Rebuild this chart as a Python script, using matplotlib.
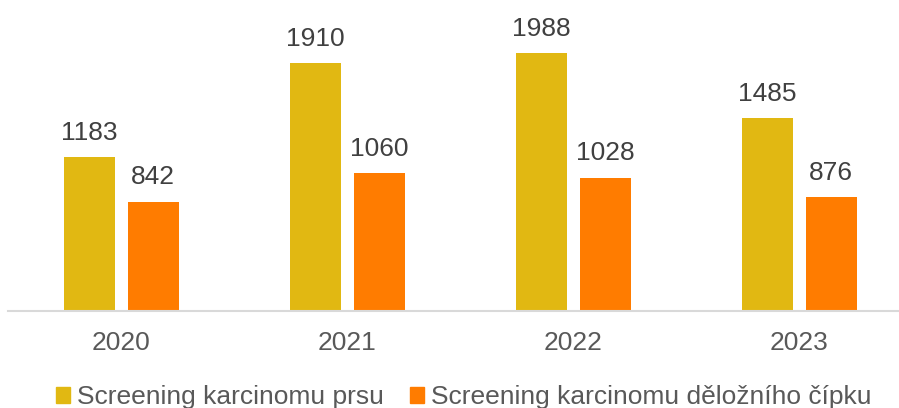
import matplotlib.pyplot as plt
import numpy as np
from matplotlib.patches import Patch

years = ["2020", "2021", "2022", "2023"]
prsu = [1183, 1910, 1988, 1485]
cipku = [842, 1060, 1028, 876]
series_names = ["Screening karcinomu prsu", "Screening karcinomu děložního čípku"]

YELLOW = "#E1B812"
ORANGE = "#FF7C00"
TEXT = "#404040"

plt.rcParams["font.family"] = ["Liberation Sans", "DejaVu Sans"]

fig = plt.figure(figsize=(8.99, 4.08), dpi=100)
ax = fig.add_axes([8 / 899, 97 / 408, 891 / 899, 311 / 408])

x = np.arange(len(years))
w = 51 / 226
off = 32 / 226
b1 = ax.bar(x - off, prsu, w, color=YELLOW)
b2 = ax.bar(x + off, cipku, w, color=ORANGE)

for bars, vals in ((b1, prsu), (b2, cipku)):
    for bar, v in zip(bars, vals):
        ax.annotate(str(v), (bar.get_x() + bar.get_width() / 2, v),
                    xytext=(0, 9), textcoords="offset points",
                    ha="center", va="bottom", fontsize=19, color=TEXT)

ax.set_xlim(-0.5, 891 / 226 - 0.5)
ax.set_ylim(0, 311 / (258 / 1988))
ax.set_xticks(x)
ax.set_xticklabels(years, fontsize=19, color="#595959")
ax.tick_params(axis="x", length=0, pad=14.5)
ax.set_yticks([])
for s in ("top", "right", "left"):
    ax.spines[s].set_visible(False)
ax.spines["bottom"].set_color("#D9D9D9")
ax.spines["bottom"].set_linewidth(1.5)

# legend sits at the very bottom edge, as in the original export
handles = [Patch(color=YELLOW), Patch(color=ORANGE)]
fig.legend(handles, series_names, loc="center", bbox_to_anchor=(0.5156, 0.026),
           ncol=2, frameon=False, fontsize=19, labelcolor="#595959",
           handlelength=0.55, handleheight=0.55, handletextpad=0.25,
           columnspacing=1.0, borderpad=0, borderaxespad=0)

fig.savefig("out.png", dpi=100)
